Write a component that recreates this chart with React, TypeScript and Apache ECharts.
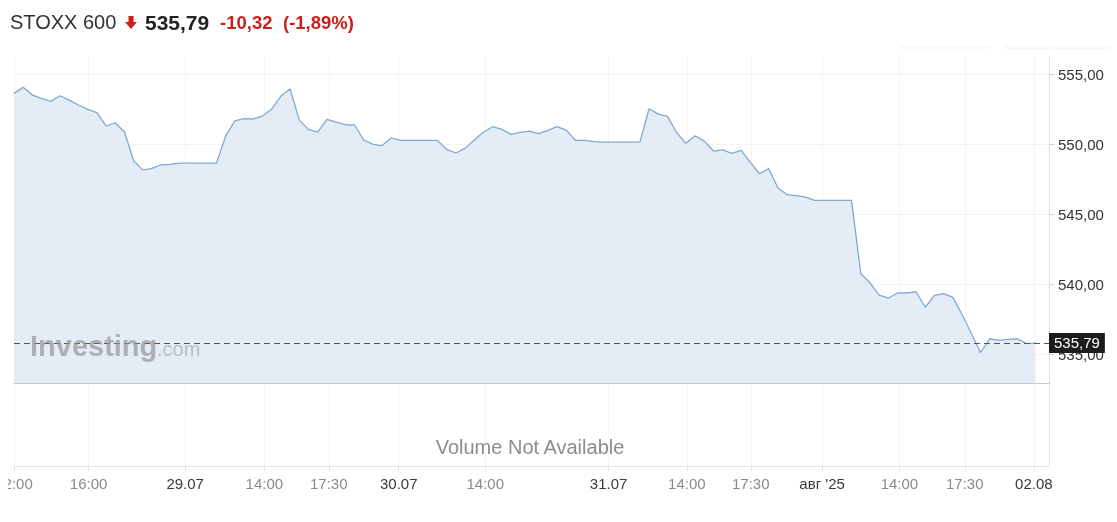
import React, { useEffect, useRef } from "react";
import * as echarts from "echarts";

// ---- data ----
const instrument = "STOXX 600";
const lastPrice = 535.79;
const change = -10.32;
const changePct = -1.89;

const prices: number[] = [
  553.62, 554.05, 553.5, 553.26, 553.05, 553.45, 553.14, 552.79, 552.48, 552.24,
  551.29, 551.52, 550.86, 548.81, 548.14, 548.26, 548.52, 548.55, 548.64, 548.64,
  548.64, 548.64, 548.64, 550.57, 551.66, 551.81, 551.79, 552.0, 552.5, 553.43,
  553.93, 551.71, 551.05, 550.86, 551.76, 551.57, 551.38, 551.36, 550.29, 549.98,
  549.89, 550.45, 550.26, 550.26, 550.26, 550.26, 550.26, 549.62, 549.36, 549.69,
  550.29, 550.84, 551.24, 551.05, 550.69, 550.84, 550.93, 550.74, 550.98, 551.24,
  551.0, 550.26, 550.26, 550.18, 550.14, 550.14, 550.14, 550.14, 550.14, 552.52,
  552.14, 551.98, 550.81, 550.05, 550.59, 550.21, 549.5, 549.59, 549.34, 549.55,
  548.69, 547.88, 548.24, 546.86, 546.38, 546.31, 546.21, 545.98, 545.98, 545.98,
  545.98, 545.98, 540.74, 540.09, 539.21, 539.0, 539.36, 539.36, 539.45, 538.34,
  539.19, 539.31, 539.05, 537.84, 536.48, 535.09, 536.09, 535.98, 536.05, 536.09,
  535.75, 535.79,
];

const tickPositions: number[] = [0, 8.1, 18.6, 27.2, 34.2, 41.8, 51.2, 64.6, 73.1, 80.05, 87.8, 96.2, 103.3, 110.8];
const tickLabels: string[] = ["12:00", "16:00", "29.07", "14:00", "17:30", "30.07", "14:00", "31.07", "14:00", "17:30", "авг '25", "14:00", "17:30", "02.08"];
const yTicks: number[] = [535, 540, 545, 550, 555];

const X_MAX = 112.45;
const Y_MIN = 532.93;
const Y_MAX = 556.29;

const fmt = (v: number) => v.toFixed(2).replace(".", ",");
const FONT = "'Liberation Sans', Arial, sans-serif";

export default function App() {
  const ref = useRef<HTMLDivElement>(null);

  useEffect(() => {
    if (!ref.current) return;
    const chart = echarts.init(ref.current, undefined, { renderer: "svg" });
    const red = "#cc1f1a";

    const option: any = {
      animation: false,
      textStyle: { fontFamily: FONT },
      grid: [
        { left: 6, right: 68, top: 56, height: 327, outerBoundsMode: "none", containLabel: false },
        { left: 6, right: 68, top: 383, height: 83, outerBoundsMode: "none", containLabel: false },
      ],
      xAxis: [
        {
          type: "value",
          gridIndex: 0,
          min: 0,
          max: X_MAX,
          axisLine: { show: true, onZero: false, lineStyle: { color: "#c9c9c9", width: 1 } },
          axisTick: { show: false, customValues: tickPositions },
          axisLabel: { show: false, customValues: tickPositions },
          splitLine: { show: true, lineStyle: { color: "#f3f3f3" } },
        },
        {
          type: "value",
          gridIndex: 1,
          min: 0,
          max: X_MAX,
          axisLine: { show: true, onZero: false, lineStyle: { color: "#e3e3e3" } },
          axisTick: { show: true, length: 5, customValues: tickPositions, lineStyle: { color: "#e3e3e3" } },
          axisLabel: {
            customValues: tickPositions,
            margin: 10,
            hideOverlap: false,
            formatter: (v: number) => {
              const idx = tickPositions.findIndex((p) => Math.abs(p - v) < 1e-6);
              if (idx < 0) return "";
              const t = tickLabels[idx];
              return t.includes(":") ? `{t|${t}}` : `{d|${t}}`;
            },
            rich: {
              t: { color: "#8a8a8a", fontSize: 15, fontFamily: FONT },
              d: { color: "#3a3a3a", fontSize: 15, fontFamily: FONT },
            },
          },
          splitLine: { show: true, lineStyle: { color: "#f3f3f3" } },
        },
      ],
      yAxis: [
        {
          type: "value",
          gridIndex: 0,
          position: "right",
          min: Y_MIN,
          max: Y_MAX,
          axisLine: { show: true, onZero: false, lineStyle: { color: "#dedede" } },
          axisTick: { show: true, length: 5, customValues: yTicks, lineStyle: { color: "#cfcfcf" } },
          axisLabel: {
            customValues: yTicks,
            formatter: (v: number) => fmt(v),
            color: "#333",
            fontSize: 15,
            margin: 9,
          },
          splitLine: { show: true, lineStyle: { color: "#f3f3f3" } },
        },
        {
          type: "value",
          gridIndex: 1,
          position: "right",
          min: 0,
          max: 1,
          axisLine: { show: true, onZero: false, lineStyle: { color: "#dedede" } },
          axisTick: { show: false },
          axisLabel: { show: false },
          splitLine: { show: false },
        },
      ],
      series: [
        {
          type: "line",
          xAxisIndex: 0,
          yAxisIndex: 0,
          data: prices.map((p, i) => [i, p]),
          symbol: "none",
          lineStyle: { color: "#82aad0", width: 1.3 },
          areaStyle: { color: "#e4edf6", opacity: 1, origin: "start" },
          z: 2,
          markLine: {
            silent: true,
            symbol: ["none", "none"],
            lineStyle: { type: [6, 4], color: "#555", width: 1 },
            label: {
              show: true,
              position: "end",
              distance: 0,
              formatter: () => fmt(lastPrice),
              backgroundColor: "#1c1c1c",
              color: "#fff",
              fontSize: 15,
              padding: [3, 5, 2, 5],
              fontFamily: FONT,
            },
            data: [{ yAxis: lastPrice }],
            z: 5,
          },
        },
      ],
      graphic: [
        {
          type: "text",
          x: 2,
          y: 22,
          style: { text: instrument, font: `20px ${FONT}`, fill: "#333", verticalAlign: "middle" },
        },
        {
          type: "polygon",
          shape: {
            points: [
              [120.5, 16], [125.5, 16], [125.5, 22], [129, 22], [123, 29], [117, 22], [120.5, 22],
            ],
          },
          style: { fill: red },
        },
        {
          type: "text",
          x: 137,
          y: 22,
          style: { text: fmt(lastPrice), font: `bold 21px ${FONT}`, fill: "#222", verticalAlign: "middle" },
        },
        {
          type: "text",
          x: 212,
          y: 22,
          style: { text: fmt(change), font: `bold 18.5px ${FONT}`, fill: red, verticalAlign: "middle" },
        },
        {
          type: "text",
          x: 275,
          y: 22,
          style: { text: `(${fmt(changePct)}%)`, font: `bold 18.5px ${FONT}`, fill: red, verticalAlign: "middle" },
        },
        {
          type: "rect",
          shape: { x: 892, y: 46, width: 90, height: 3 },
          style: { fill: "rgba(90,180,90,0.06)" },
        },
        {
          type: "rect",
          shape: { x: 997, y: 46, width: 105, height: 3 },
          style: { fill: "rgba(220,80,80,0.06)" },
        },
        {
          type: "text",
          x: 522,
          y: 447,
          z: 10,
          style: {
            text: "Volume Not Available",
            font: `20px ${FONT}`,
            fill: "#8c8c8c",
            textAlign: "center",
            verticalAlign: "middle",
          },
        },
        {
          type: "text",
          x: 22,
          y: 346,
          z: 10,
          style: {
            text: "Investing",
            font: `bold 29px ${FONT}`,
            fill: "rgba(150,150,150,0.7)",
            verticalAlign: "middle",
          },
        },
        {
          type: "text",
          x: 149,
          y: 349,
          z: 10,
          style: {
            text: ".com",
            font: `20px ${FONT}`,
            fill: "rgba(170,170,170,0.7)",
            verticalAlign: "middle",
          },
        },
      ],
    };

    chart.setOption(option);
    return () => chart.dispose();
  }, []);

  return (
    <div
      ref={ref}
      style={{ position: "fixed", left: 8, top: 0, width: 1109, height: 522 }}
    />
  );
}
